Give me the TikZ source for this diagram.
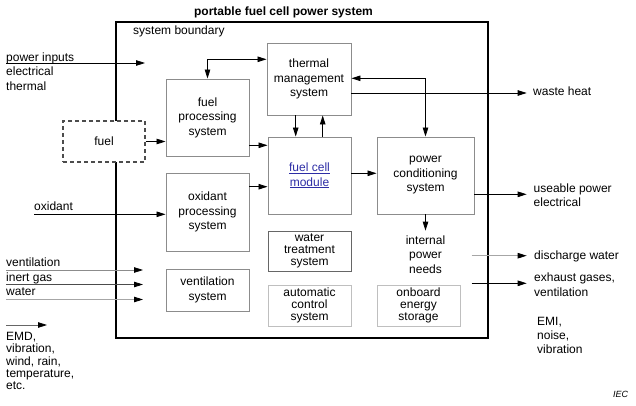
\documentclass[tikz,border=0pt]{standalone}
\usepackage{fontspec}
\setmainfont{Liberation Sans}
\usetikzlibrary{arrows.meta,positioning}
\definecolor{linkblue}{RGB}{45,45,165}

\begin{document}
\begin{tikzpicture}[
  x=1pt, y=-1pt,
  font=\fontsize{12}{14.5}\selectfont,
  box/.style={draw=black!45, line width=0.9pt, align=center, inner sep=0pt},
  tight/.style={font=\fontsize{12}{12.3}\selectfont},
  lbl/.style={align=left, inner sep=0pt, anchor=north west},
  word/.style={inner sep=0pt, anchor=base west},
  arrow/.style={-{Triangle[length=9pt,width=5.5pt,color=black]}, line width=0.8pt},
  dbl/.style={{Triangle[length=9pt,width=5.5pt]}-{Triangle[length=9pt,width=5.5pt]}, line width=0.8pt}
]
\useasboundingbox (0,0) rectangle (636,406);

% boundary and title
\node[draw, line width=1.6pt, inner sep=0pt, minimum width=372pt, minimum height=316pt] (sysb) at (302,180) {};
\node[font=\fontsize{12}{14}\selectfont\bfseries, anchor=base, inner sep=0pt] (title) at (283.5,15.6) {portable fuel cell power system};
\node[word] (sblbl) at (133,34.5) {system boundary};

% blocks
\node[draw=black!70, line width=1.2pt, dash pattern=on 4pt off 3pt, fill=white, inner sep=0pt, minimum width=82pt, minimum height=41pt] (fuel) at (104,141.5) {fuel};
\node[box, minimum width=83pt, minimum height=77pt] (fps) at (207.5,117.5) {fuel\\processing\\system};
\node[box, minimum width=83pt, minimum height=78pt] (ops) at (207.5,212) {oxidant\\processing\\system};
\node[box, minimum width=83pt, minimum height=42pt] (vent) at (207.5,290) {ventilation\\system};
\node[box, minimum width=84pt, minimum height=72pt] (tms) at (309,79) {thermal\\management\\system};
\node[box, minimum width=83pt, minimum height=77pt, text=linkblue] (fcm) at (309.5,175.5) {\underline{fuel cell}\\\underline{module}};
\node[box, minimum width=97pt, minimum height=77pt] (pcs) at (425.5,175.5) {power\\conditioning\\system};
\node[box, tight, draw=black!60, minimum width=83pt, minimum height=40pt] (wts) at (309.5,251) {water\\treatment\\system};
\node[box, tight, draw=black!25, minimum width=83pt, minimum height=41pt] (acs) at (309.5,305.5) {automatic\\control\\system};
\node[box, tight, draw=black!25, minimum width=83pt, minimum height=41pt] (oes) at (418.5,305.5) {onboard\\energy\\storage};
\node[align=center, inner sep=0pt, anchor=north] (ipn) at (425.5,235.6) {internal\\power\\needs};

% inputs
\node[lbl, font=\fontsize{12}{14.8}\selectfont] (pinlbl) at (6,52.3) {power inputs\\electrical\\thermal};
\coordinate (pinS) at (6,63);
\coordinate (pinE) at (145,63);
\node[word] (oxlbl) at (34,210) {oxidant};
\coordinate (oxS) at (34,214.3);
\node[word] (ventlbl) at (6,266.7) {ventilation};
\node[word] (gaslbl) at (6,281) {inert gas};
\node[word] (waterlbl) at (6,295.7) {water};
\coordinate (ventS) at (6,270);
\coordinate (ventE) at (143,270);
\coordinate (gasS) at (6,284.5);
\coordinate (gasE) at (143,284.5);
\coordinate (waterS) at (6,299.5);
\coordinate (waterE) at (143,299.5);
\coordinate (envS) at (6,325);
\coordinate (envE) at (47,325);
\node[lbl, tight] (envlbl) at (6,332) {EMD,\\vibration,\\wind, rain,\\temperature,\\etc.};

% outputs
\coordinate (whE) at (526.7,93);
\node[word] (whlbl) at (533,96) {waste heat};
\coordinate (upE) at (526.7,194.3);
\node[lbl, font=\fontsize{12}{14.4}\selectfont] (uplbl) at (533.5,183.6) {useable power\\electrical};
\coordinate (dwS) at (471.7,255.7);
\coordinate (dwE) at (526.7,255.7);
\node[word] (dwlbl) at (534,259.3) {discharge water};
\coordinate (exS) at (471.7,283.3);
\coordinate (exE) at (526.7,283.3);
\node[lbl, font=\fontsize{12}{14.3}\selectfont] (exlbl) at (534,273) {exhaust gases,\\ventilation};
\node[lbl, font=\fontsize{12}{14}\selectfont] (emilbl) at (537,317.3) {EMI,\\noise,\\vibration};
\node[word, font=\fontsize{9}{10}\selectfont\itshape] (iec) at (613,397.5) {IEC};

% connectors
\draw[arrow] (pinS) -- (pinE);
\draw[arrow] (fuel) -- (fuel -| fps.west);
\draw[arrow] (oxS) -- (oxS -| ops.west);
\draw[arrow, draw=black!45] (ventS) -- (ventE);
\draw[arrow, draw=black!70] (gasS) -- (gasE);
\draw[arrow, draw=black!35] (waterS) -- (waterE);
\draw[arrow, draw=black!60] (envS) -- (envE);
\draw[dbl] (fps.north) |- (tms.west |- 0,59.3);
\draw[arrow] (fps.east |- 0,145.3) -- (fcm.west |- 0,145.3);
\draw[arrow] (ops.east |- 0,186.7) -- (fcm.west |- 0,186.7);
\draw[arrow] (tms.south -| 295.7,0) -- (fcm.north -| 295.7,0);
\draw[arrow] (fcm.north -| 322.7,0) -- (tms.south -| 322.7,0);
\draw[arrow] (fcm.east |- 0,173.3) -- (pcs.west |- 0,173.3);
\draw[dbl] (tms.east |- 0,78.3) -| (pcs.north);
\draw[arrow] (tms.east |- whE) -- (whE);
\draw[arrow] (pcs.east |- upE) -- (upE);
\draw[arrow] (pcs.south) -- ([yshift=5pt]ipn.north);
\draw[arrow, draw=black!35] (dwS) -- (dwE);
\draw[arrow] (exS) -- (exE);
\end{tikzpicture}
\end{document}
